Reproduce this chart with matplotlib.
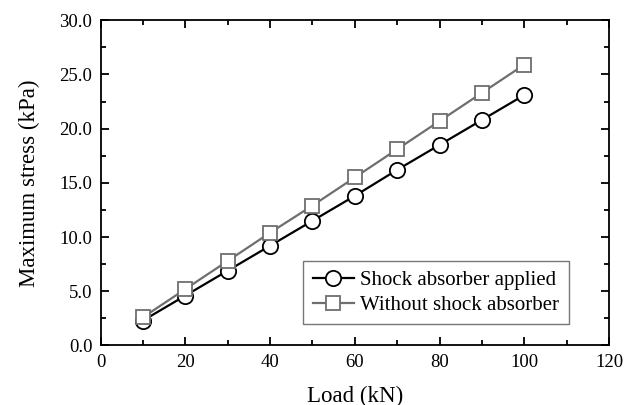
import matplotlib.pyplot as plt
from matplotlib.ticker import FormatStrFormatter, MultipleLocator

load_kn = [10, 20, 30, 40, 50, 60, 70, 80, 90, 100]
stress_with = [2.3, 4.6, 6.9, 9.2, 11.5, 13.8, 16.2, 18.5, 20.8, 23.1]
stress_without = [2.6, 5.2, 7.8, 10.4, 12.9, 15.5, 18.1, 20.7, 23.3, 25.9]

plt.rcParams["font.family"] = ["Liberation Serif", "DejaVu Serif"]

fig = plt.figure(figsize=(6.37, 4.05), dpi=100)
ax = fig.add_axes([0.158, 0.147, 0.798, 0.803])

ax.plot(load_kn, stress_with, color="black", lw=1.6, marker="o", ms=11,
        mfc="white", mec="black", mew=1.3, label="Shock absorber applied")
ax.plot(load_kn, stress_without, color="#6e6e6e", lw=1.6, marker="s", ms=10.5,
        mfc="white", mec="#6e6e6e", mew=1.3, label="Without shock absorber")

ax.set_xlim(0, 120)
ax.set_ylim(0, 30)
ax.xaxis.set_major_locator(MultipleLocator(20))
ax.xaxis.set_minor_locator(MultipleLocator(10))
ax.yaxis.set_major_locator(MultipleLocator(5))
ax.yaxis.set_minor_locator(MultipleLocator(2.5))
ax.yaxis.set_major_formatter(FormatStrFormatter("%.1f"))

ax.tick_params(which="both", direction="in", top=True, right=True, width=1.3,
               labelsize=13.5, pad=6)
ax.tick_params(which="major", length=6)
ax.tick_params(which="minor", length=3.5)
for s in ax.spines.values():
    s.set_linewidth(1.3)

ax.set_xlabel("Load (kN)", fontsize=16.5, labelpad=10.5)
ax.set_ylabel("Maximum stress (kPa)", fontsize=16.5, labelpad=14)

leg = ax.legend(loc="lower right", bbox_to_anchor=(0.921, 0.065), borderaxespad=0,
                fontsize=15, fancybox=False, edgecolor="#555555",
                handlelength=2.0, handletextpad=0.3, labelspacing=0.25,
                borderpad=0.45)
leg.get_frame().set_linewidth(1.0)

fig.savefig("out.png", dpi=100)
